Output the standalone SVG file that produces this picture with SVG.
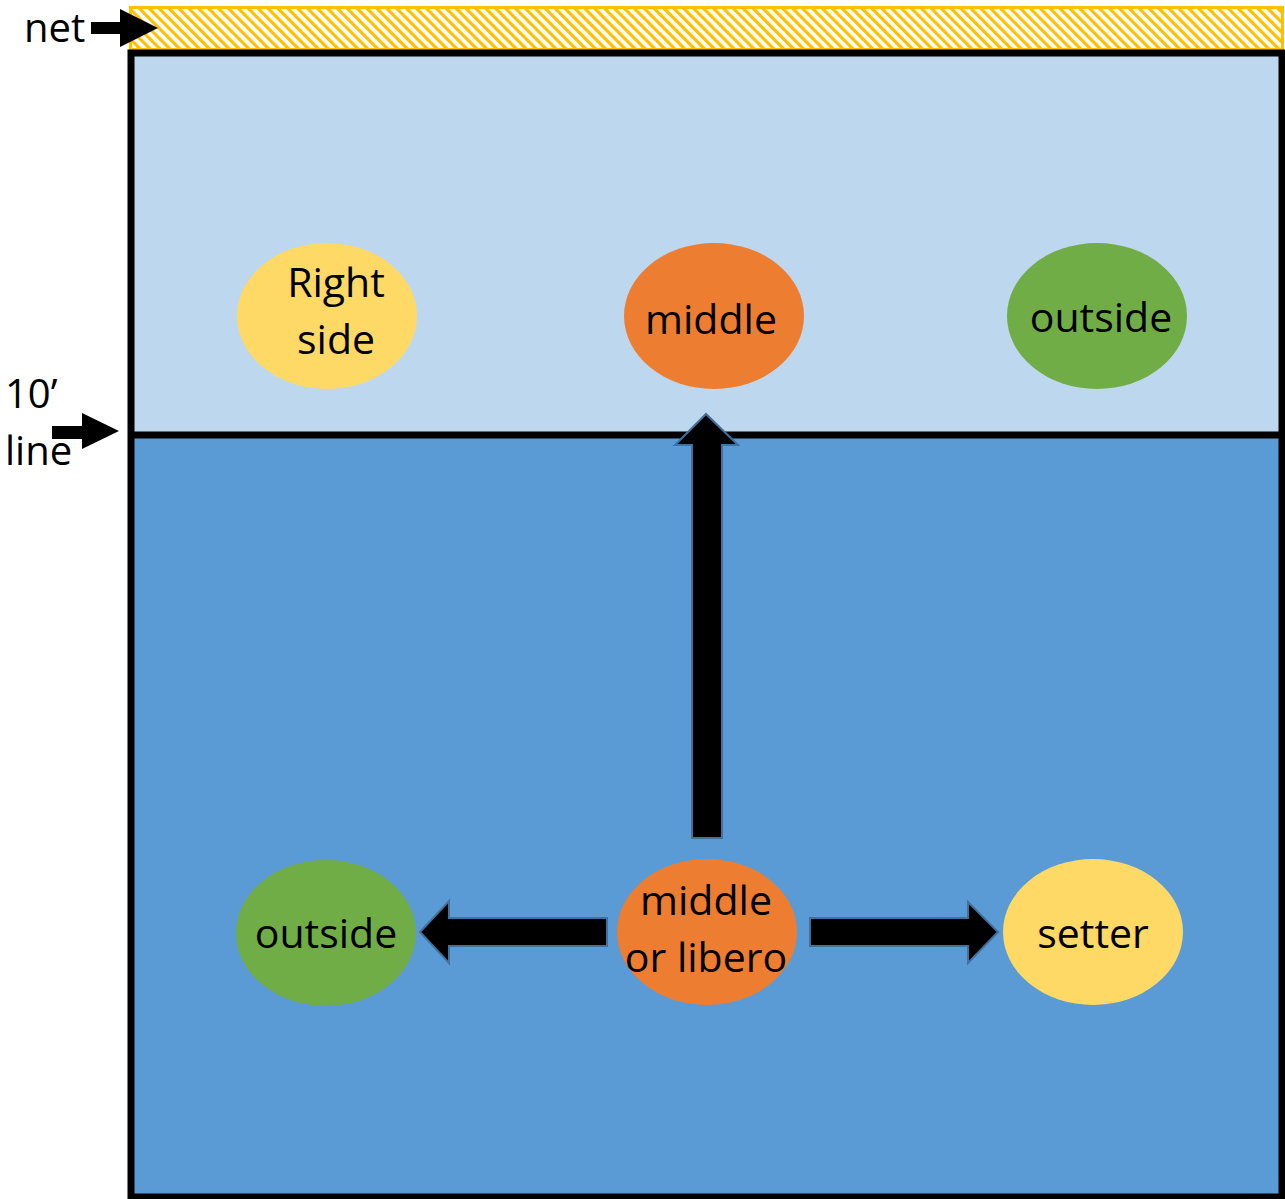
<svg xmlns="http://www.w3.org/2000/svg" width="1285" height="1199" viewBox="0 0 1285 1199">
<style>
.lbl{font-family:"Open Sans","Liberation Sans",sans-serif;font-size:41px;fill:#000;text-anchor:middle}
.side{font-family:"Open Sans","Liberation Sans",sans-serif;font-size:40px;fill:#000}
.blk{fill:#000;stroke:#41719C;stroke-width:2;stroke-linejoin:miter}
.yel{fill:#FFD966}.org{fill:#ED7D31}.grn{fill:#70AD47}
</style>
<defs>
<pattern id="hatch" width="7" height="7" patternUnits="userSpaceOnUse" patternTransform="rotate(-45)">
<rect width="7" height="7" fill="#fff"/>
<rect x="0" y="0" width="3.2" height="7" fill="#FFC000"/>
</pattern>
</defs>
<rect width="1285" height="1199" fill="#fff"/>
<g id="net">
<rect x="130.5" y="7.5" width="1152" height="42" fill="url(#hatch)" stroke="#FFC000" stroke-width="3"/>
</g>
<g id="court">
<rect x="131" y="53" width="1151" height="382" fill="#BDD7EE"/>
<rect x="131" y="435" width="1151" height="762" fill="#5B9BD5"/>
<rect x="131" y="53" width="1151" height="1144" fill="none" stroke="#000" stroke-width="7"/>
<line x1="131" y1="435" x2="1282" y2="435" stroke="#000" stroke-width="7"/>
</g>
<g id="labels">
<text class="side" x="24" y="42">net</text>
<polygon points="91,22 120,22 120,9 158,28 120,47 120,34 91,34" fill="#000"/>
<text class="side" x="5" y="408">10’</text>
<text class="side" x="5" y="465">line</text>
<polygon points="52,426 82,426 82,413 119,431 82,449 82,439 52,439" fill="#000"/>
</g>
<g id="connectors">
<polygon class="blk" points="692,838 692,445 675,445 706,414 738,445 722,445 722,838"/>
<polygon class="blk" points="607,918 449,918 449,901 420,932 449,963 449,946 607,946"/>
<polygon class="blk" points="810,918 968,918 968,902 998,932 968,963 968,946 810,946"/>
</g>
<g id="right-side">
<ellipse class="yel" cx="327" cy="316" rx="90" ry="73"/>
<text class="lbl" x="336" y="297">Right</text>
<text class="lbl" x="336" y="354">side</text>
</g>
<g id="middle-top">
<ellipse class="org" cx="714" cy="316" rx="90" ry="73"/>
<text class="lbl" x="711" y="334">middle</text>
</g>
<g id="outside-top">
<ellipse class="grn" cx="1097" cy="316" rx="90" ry="73"/>
<text class="lbl" x="1101" y="332">outside</text>
</g>
<g id="outside-bottom">
<ellipse class="grn" cx="326" cy="933" rx="90" ry="73"/>
<text class="lbl" x="326" y="948">outside</text>
</g>
<g id="middle-libero">
<ellipse class="org" cx="707" cy="932" rx="90" ry="73"/>
<text class="lbl" x="706" y="915">middle</text>
<text class="lbl" x="706" y="972">or libero</text>
</g>
<g id="setter">
<ellipse class="yel" cx="1093" cy="932" rx="90" ry="73"/>
<text class="lbl" x="1093" y="948">setter</text>
</g>
</svg>
